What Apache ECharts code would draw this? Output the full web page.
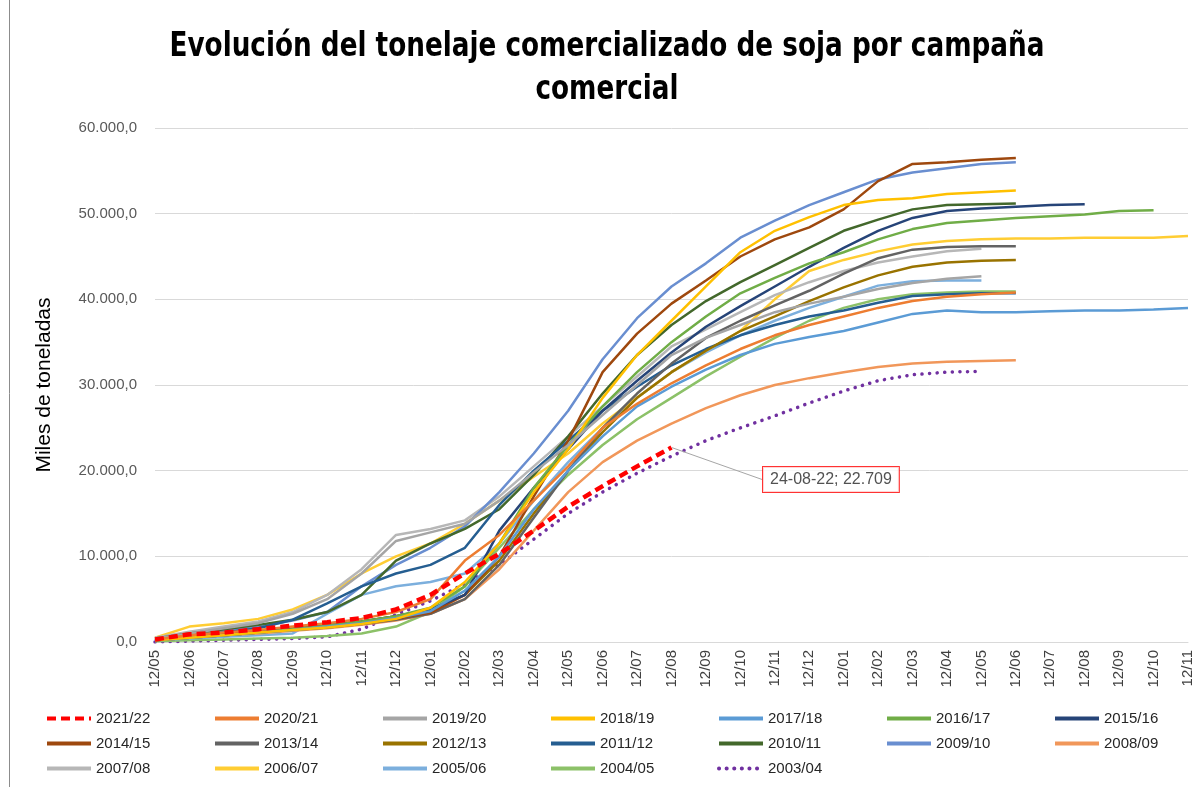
<!DOCTYPE html>
<html>
<head>
<meta charset="utf-8">
<script src="https://cdn.jsdelivr.net/npm/echarts@6/dist/echarts.min.js"></script>
<style>
  html, body { margin: 0; padding: 0; background: #fff; }
  #chart { width: 1203px; height: 787px; }
</style>
</head>
<body>
<div id="chart"></div>
<script>
// eje X: meses desde 12/05 (uno por mes)
var months = ['12/05','12/06','12/07','12/08','12/09','12/10','12/11','12/12','12/01','12/02','12/03','12/04',
  '12/05','12/06','12/07','12/08','12/09','12/10','12/11','12/12','12/01','12/02','12/03','12/04',
  '12/05','12/06','12/07','12/08','12/09','12/10','12/11'];

var seasons = ['2021/22','2020/21','2019/20','2018/19','2017/18','2016/17','2015/16',
  '2014/15','2013/14','2012/13','2011/12','2010/11','2009/10','2008/09',
  '2007/08','2006/07','2005/06','2004/05','2003/04'];

// miles de toneladas acumuladas, un valor por mes
var s2122 = [300, 900, 1100, 1500, 1900, 2300, 2800, 3800, 5500, 8000, 10300, 13000, 15800, 18200, 20500, 22709];
var s2021 = [300, 800, 1100, 1400, 1800, 2200, 2700, 3500, 5000, 9500, 12500, 16500, 20500, 25000, 27800, 30200, 32300, 34200, 35800, 37000, 38000, 39000, 39800, 40300, 40600, 40800];
var s1920 = [400, 1000, 1600, 2200, 3300, 5000, 8000, 11800, 12800, 13800, 16500, 19800, 23000, 26500, 30000, 33500, 35500, 37000, 38500, 39500, 40300, 41200, 41900, 42400, 42700];
var s1819 = [200, 500, 800, 1100, 1400, 1700, 2100, 2700, 4000, 7000, 11500, 17500, 22500, 28500, 33500, 37500, 41500, 45500, 48000, 49600, 51000, 51600, 51800, 52300, 52500, 52700];
var s1718 = [200, 500, 800, 1100, 1400, 1800, 2200, 2800, 3600, 6000, 10000, 15500, 20000, 24000, 27500, 29800, 31800, 33500, 34800, 35600, 36300, 37300, 38300, 38700, 38500, 38500, 38600, 38700, 38700, 38800, 39000];
var s1617 = [200, 500, 800, 1100, 1500, 1900, 2400, 3000, 4000, 6500, 11500, 18000, 23000, 27500, 31500, 35000, 38000, 40700, 42500, 44200, 45500, 47000, 48200, 48900, 49200, 49500, 49700, 49900, 50300, 50400];
var s1516 = [200, 500, 800, 1100, 1500, 1900, 2400, 3000, 3800, 5500, 13000, 18000, 22500, 27000, 30500, 33800, 36800, 39200, 41500, 43800, 46000, 48000, 49500, 50300, 50600, 50800, 51000, 51100];
var s1415 = [200, 600, 900, 1200, 1500, 1800, 2200, 2700, 3400, 5500, 10000, 17000, 23500, 31500, 36000, 39500, 42200, 45000, 47000, 48400, 50500, 53800, 55800, 56000, 56300, 56500];
var s1314 = [200, 500, 800, 1100, 1400, 1700, 2100, 2600, 3300, 5000, 9000, 14500, 20000, 25000, 29000, 32500, 35500, 37500, 39300, 41000, 43000, 44800, 45800, 46100, 46200, 46200];
var s1213 = [200, 600, 1000, 1300, 1600, 2000, 2400, 3000, 3800, 5500, 9500, 15000, 20000, 24500, 28500, 31500, 34000, 36300, 38000, 39800, 41400, 42800, 43800, 44300, 44500, 44600];
var s1112 = [300, 700, 1100, 1600, 2600, 4500, 6500, 8000, 9000, 11000, 16000, 20000, 23500, 27000, 29800, 32300, 34200, 35800, 37000, 38000, 38700, 39600, 40400, 40600, 40700, 40700];
var s1011 = [400, 1000, 1500, 2000, 2600, 3500, 5500, 9500, 11500, 13200, 15500, 19500, 24000, 29000, 33500, 37000, 39800, 42000, 44000, 46000, 48000, 49300, 50500, 51000, 51100, 51200];
var s0910 = [300, 800, 1300, 1800, 2500, 3500, 6500, 9000, 11000, 13500, 17500, 22000, 27000, 33000, 37800, 41500, 44200, 47200, 49200, 51000, 52500, 54000, 54800, 55300, 55800, 56000];
var s0809 = [200, 500, 800, 1000, 1300, 1600, 2000, 2500, 3300, 5000, 8500, 13000, 17500, 21000, 23500, 25500, 27300, 28800, 30000, 30800, 31500, 32100, 32500, 32700, 32800, 32900];
var s0708 = [500, 1200, 1800, 2400, 3500, 5500, 8500, 12500, 13200, 14200, 17000, 20500, 24000, 27500, 31000, 34500, 36500, 38500, 40500, 42000, 43300, 44300, 45000, 45600, 45900];
var s0607 = [500, 1800, 2200, 2700, 3800, 5500, 8000, 10000, 11500, 13800, 16500, 19300, 22000, 25500, 28500, 31500, 34000, 36300, 40000, 43300, 44600, 45600, 46400, 46800, 47000, 47100, 47100, 47200, 47200, 47200, 47400];
var s0506 = [200, 400, 600, 800, 1000, 3300, 5500, 6500, 7000, 8000, 11500, 16500, 21000, 25000, 28500, 31500, 33800, 35800, 37500, 39000, 40300, 41600, 42100, 42200, 42200];
var s0405 = [100, 200, 300, 400, 500, 700, 1000, 1800, 3500, 6500, 11000, 15500, 19500, 23000, 26000, 28500, 31000, 33300, 35500, 37500, 39000, 40000, 40600, 40800, 40900, 40900];
var s0304 = [0, 100, 200, 300, 400, 600, 1500, 3200, 4800, 6800, 9000, 12000, 15000, 17500, 19700, 21700, 23500, 25000, 26400, 27900, 29300, 30500, 31200, 31500, 31600];

var yTicks = [0, 10000, 20000, 30000, 40000, 50000, 60000];
var lastLabel = '24-08-22; 22.709';

var allData = [s2122, s2021, s1920, s1819, s1718, s1617, s1516, s1415, s1314, s1213,
  s1112, s1011, s0910, s0809, s0708, s0607, s0506, s0405, s0304];

var colors = ['#FF0000', '#ED7D31', '#A5A5A5', '#FFC000', '#5B9BD5', '#70AD47', '#264478',
  '#9E480E', '#636363', '#997300', '#255E91', '#43682B', '#698ED0', '#F1975A',
  '#B7B7B7', '#FFCD33', '#7CAFDD', '#8CC168', '#7030A0'];

var font = 'Liberation Sans';

function fmt(v) {
  var s = String(Math.round(v)).replace(/\B(?=(\d{3})+(?!\d))/g, '.');
  return s + ',0';
}

var series = [];
for (var i = seasons.length - 1; i >= 0; i--) {
  var ls = { width: 2.5, color: colors[i] };
  if (i === 0) { ls = { width: 4.5, color: colors[i], type: [9, 5] }; }
  if (i === seasons.length - 1) { ls = { width: 3.5, color: colors[i], type: [0.1, 7.5], cap: 'round' }; }
  series.push({
    name: seasons[i],
    type: 'line',
    data: allData[i],
    symbol: 'none',
    color: colors[i],
    lineStyle: ls,
    z: i === 0 ? 10 : 2,
    animation: false
  });
}

// etiqueta del último dato de la campaña actual
var lastIdx = s2122.length - 1;
series.push({
  name: 'etiqueta',
  type: 'scatter',
  data: [[lastIdx, s2122[lastIdx]]],
  symbolSize: 1,
  itemStyle: { color: 'rgba(0,0,0,0)' },
  z: 20,
  label: {
    show: true,
    position: 'right',
    formatter: lastLabel,
    fontFamily: font,
    fontSize: 16,
    color: '#262626',
    backgroundColor: '#fff',
    borderColor: '#FF0000',
    borderWidth: 1,
    padding: [5, 7, 4, 7]
  },
  labelLayout: { dx: 86, dy: 32 },
  labelLine: { show: true, lineStyle: { color: '#A6A6A6', width: 1 } },
  animation: false
});

var chart = echarts.init(document.getElementById('chart'), null, { renderer: 'canvas' });

var option = {
  backgroundColor: '#fff',
  grid: {
    left: 155,
    right: 15,
    top: 128,
    bottom: 145,
    containLabel: false
  },
  legend: {
    data: seasons,
    left: 40,
    top: 703,
    width: 1185,
    itemWidth: 44,
    itemHeight: 14,
    itemGap: 4,
    itemStyle: { opacity: 0 },
    lineStyle: { width: 4 },
    textStyle: {
      fontFamily: font,
      fontSize: 15,
      lineHeight: 21,
      width: 113,
      color: '#262626'
    }
  },
  xAxis: {
    type: 'category',
    data: months,
    boundaryGap: false,
    axisLine: { lineStyle: { color: '#D9D9D9', width: 1 } },
    axisTick: { show: false },
    axisLabel: {
      interval: 0,
      rotate: 90,
      margin: 8,
      fontFamily: font,
      fontSize: 15,
      color: '#404040'
    },
    splitLine: { show: false }
  },
  yAxis: {
    type: 'value',
    min: yTicks[0],
    max: yTicks[yTicks.length - 1],
    interval: 10000,
    name: 'Miles de toneladas',
    nameLocation: 'middle',
    nameRotate: 90,
    nameGap: 100,
    nameTextStyle: { fontFamily: font, fontSize: 21, color: '#000' },
    axisLine: { show: false },
    axisTick: { show: false },
    axisLabel: {
      fontFamily: font,
      fontSize: 15,
      color: '#595959',
      margin: 18,
      formatter: fmt
    },
    splitLine: { lineStyle: { color: '#D9D9D9', width: 1 } }
  },
  graphic: [{
    type: 'line',
    shape: { x1: 9.5, y1: 0, x2: 9.5, y2: 787 },
    style: { stroke: '#8C8C8C', lineWidth: 1 }
  }, {
    type: 'text',
    x: 607,
    y: 26,
    scaleX: 0.885,
    style: {
      text: 'Evolución del tonelaje comercializado de soja por campaña\ncomercial',
      font: 'bold 33px "DejaVu Sans Condensed", "DejaVu Sans", sans-serif',
      lineHeight: 43,
      textAlign: 'center',
      fill: '#000'
    }
  }],
  series: series
};

chart.setOption(option);
</script>
</body>
</html>
